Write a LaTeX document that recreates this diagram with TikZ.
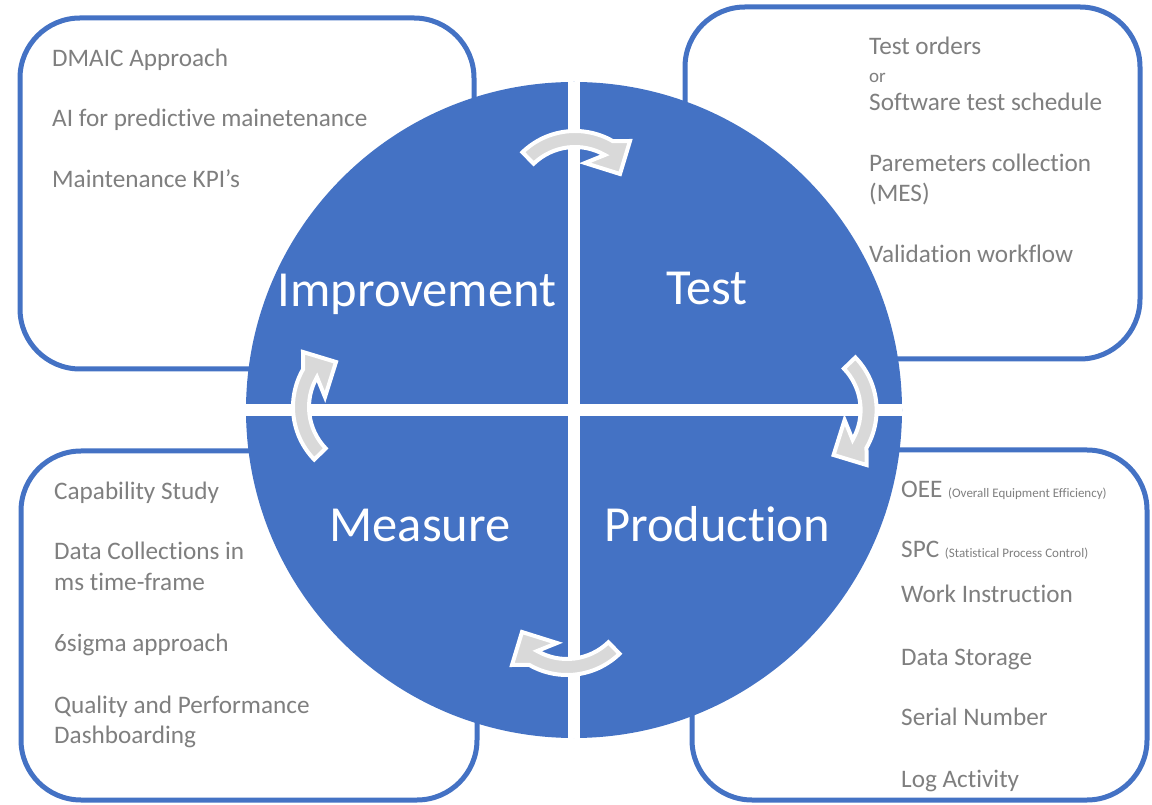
\documentclass[tikz,border=0pt]{standalone}
\usepackage{fontspec}
\setmainfont{Carlito}[Ligatures={NoCommon,NoRequired,NoContextual}, RawFeature=-calt]
\definecolor{blueF}{HTML}{4472C4}
\definecolor{txt}{HTML}{7F7F7F}
\definecolor{arrowgray}{HTML}{D9D9D9}
\tikzset{
  box/.style={draw=blueF, line width=5pt, fill=white, rounded corners=60pt},
  item/.style={anchor=base west, inner sep=0pt, text=txt, font=\fontsize{25.2}{29}\selectfont},
  big/.style={anchor=base, inner sep=0pt, text=white, font=\fontsize{50.5}{60}\selectfont},
  cyc/.style={fill=arrowgray, draw=white, line width=4pt, line join=miter},
  cycarrow/.pic={
    \filldraw[cyc] (134:75.6) arc[start angle=134, end angle=60, radius=75.6]
      -- (55,65.6) -- (45,32.6) -- (10,43.6) -- (60:59.6)
      arc[start angle=60, end angle=134, radius=59.6] -- cycle;
  }
}
\newcommand{\smalltxt}{\fontsize{13}{15}\selectfont}
\begin{document}
\begin{tikzpicture}[x=1pt,y=1pt]
\useasboundingbox (0,0) rectangle (1152,804);
% boxes
\draw[box] (20,435) rectangle (474,786);
\draw[box] (685,445) rectangle (1140,797);
\draw[box] (21,4) rectangle (477,353);
\draw[box] (692,4) rectangle (1147,354);
% circle
\fill[blueF] (574,394) circle (328);
\begin{scope}
  \clip (574,394) circle (328);
  \draw[white, line width=12pt] (574,60) -- (574,730);
  \draw[white, line width=12pt] (240,394) -- (910,394);
\end{scope}
% cycle arrows
\path (575,597.4) pic {cycarrow};
\path (801,394) pic[rotate=-90] {cycarrow};
\path (567,204.6) pic[rotate=180] {cycarrow};
\path (368.6,397) pic[rotate=90] {cycarrow};
% big labels
\node[big] (imp) at (417,497) {Improvement};
\node[big] (tst) at (707,499) {Test};
\node[big] (mea) at (420,262) {Measure};
\node[big] (pro) at (717,262) {Production};
% top-left
\node[item] (tl1) at (52,737) {DMAIC Approach};
\node[item] (tl2) at (52,677) {AI for predictive mainetenance};
\node[item] (tl3) at (52,616) {Maintenance KPI’s};
% top-right
\node[item] (tr1) at (869,749) {Test orders};
\node[item, font=\fontsize{19}{22}\selectfont] (tr2) at (869,721) {or};
\node[item] (tr3) at (869,693) {Software test schedule};
\node[item] (tr4) at (869,632) {Paremeters collection};
\node[item] (tr5) at (869,602) {(MES)};
\node[item] (tr6) at (869,541) {Validation workflow};
% bottom-left
\node[item] (bl1) at (54,304) {Capability Study};
\node[item] (bl2) at (54,244) {Data Collections in};
\node[item] (bl3) at (54,213) {ms time-frame};
\node[item] (bl4) at (54,152) {6sigma approach};
\node[item] (bl5) at (54,91) {Quality and Performance};
\node[item] (bl6) at (54,61) {Dashboarding};
% bottom-right
\node[item] (br1) at (901,306) {OEE {\smalltxt (Overall Equipment Efficiency)}};
\node[item] (br2) at (901,246) {SPC {\smalltxt (Statistical Process Control)}};
\node[item] (br3) at (901,201) {Work Instruction};
\node[item] (br4) at (901,139) {Data Storage};
\node[item] (br5) at (901,79) {Serial Number};
\node[item] (br6) at (901,17) {Log Activity};
\end{tikzpicture}
\end{document}
